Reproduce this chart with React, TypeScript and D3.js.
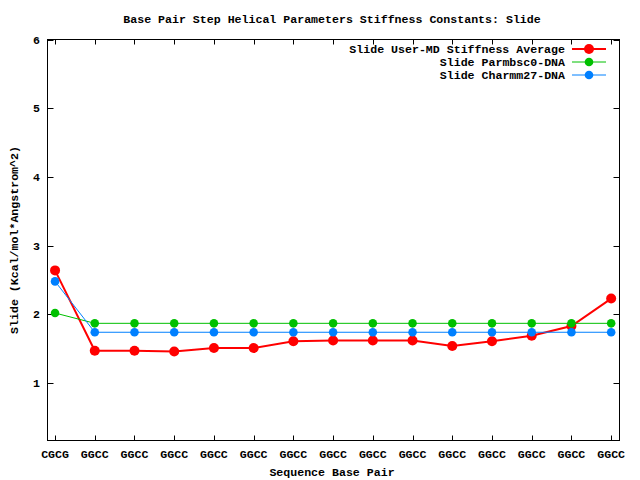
import React from "react";
import * as d3 from "d3";

const categories = ["CGCG","GGCC","GGCC","GGCC","GGCC","GGCC","GGCC","GGCC","GGCC","GGCC","GGCC","GGCC","GGCC","GGCC","GGCC"];
const userMD = [2.64,1.47,1.47,1.46,1.51,1.51,1.61,1.62,1.62,1.62,1.54,1.61,1.69,1.83,2.23];
const parmbsc0 = [2.02,1.87,1.87,1.87,1.87,1.87,1.87,1.87,1.87,1.87,1.87,1.87,1.87,1.87,1.87];
const charmm27 = [2.48,1.74,1.74,1.74,1.74,1.74,1.74,1.74,1.74,1.74,1.74,1.74,1.74,1.74,1.74];
const yTicks = [1,2,3,4,5,6];
const seriesNames = ["Slide User-MD Stiffness Average","Slide Parmbsc0-DNA","Slide Charmm27-DNA"];

const W = 640, H = 480;
const L = 47.5, R = 619.5, T = 39.5, B = 440.5;
const font = "'Liberation Mono', 'DejaVu Sans Mono', monospace";
const fs = 11.6;

export default function App() {
  const x = d3.scaleLinear().domain([-0.19, 14.21]).range([L, R]);
  const y = d3.scaleLinear().domain([0.165, 6]).range([B, T]);
  const line = d3.line<number>().x((_, i) => x(i)).y((d) => y(d));
  const series = [
    { name: seriesNames[0], data: userMD, color: "#ff0000", w: 2, r: 5 },
    { name: seriesNames[1], data: parmbsc0, color: "#00c000", w: 1, r: 4.3 },
    { name: seriesNames[2], data: charmm27, color: "#0080ff", w: 1, r: 4.3 },
  ];
  return (
    <svg width={W} height={H} style={{ position: "absolute", left: 0, top: 0, background: "#fff" }}>
      <rect x={0} y={0} width={W} height={H} fill="#fff" />
      <text x={332} y={23} textAnchor="middle" fontFamily={font} fontWeight="bold" fontSize={fs}>
        Base Pair Step Helical Parameters Stiffness Constants: Slide
      </text>
      {yTicks.map((t) => (
        <g key={t}>
          <line x1={L} x2={L + 6} y1={Math.round(y(t)) + 0.5} y2={Math.round(y(t)) + 0.5} stroke="#000" />
          <line x1={R} x2={R - 6} y1={Math.round(y(t)) + 0.5} y2={Math.round(y(t)) + 0.5} stroke="#000" />
          <text x={40} y={y(t) + 4} textAnchor="end" fontFamily={font} fontWeight="bold" fontSize={fs}>{t}</text>
        </g>
      ))}
      {categories.map((c, i) => (
        <g key={i}>
          <line x1={Math.round(x(i)) + 0.5} x2={Math.round(x(i)) + 0.5} y1={B} y2={B - 5} stroke="#000" />
          <line x1={Math.round(x(i)) + 0.5} x2={Math.round(x(i)) + 0.5} y1={T} y2={T + 5} stroke="#000" />
          <text x={x(i)} y={458} textAnchor="middle" fontFamily={font} fontWeight="bold" fontSize={fs}>{c}</text>
        </g>
      ))}
      <rect x={L} y={T} width={R - L} height={B - T} fill="none" stroke="#000" />
      <text x={332} y={476} textAnchor="middle" fontFamily={font} fontWeight="bold" fontSize={fs}>Sequence Base Pair</text>
      <text transform={`translate(18,240) rotate(-90)`} textAnchor="middle" fontFamily={font} fontWeight="bold" fontSize={fs}>
        Slide (Kcal/mol*Angstrom^2)
      </text>
      {series.map((s) => (
        <g key={s.name}>
          <path d={line(s.data) || ""} fill="none" stroke={s.color} strokeWidth={s.w} />
          {s.data.map((v, i) => (
            <circle key={i} cx={x(i)} cy={y(v)} r={s.r} fill={s.color} />
          ))}
        </g>
      ))}
      {series.map((s, k) => {
        const ly = 49 + k * 13;
        return (
          <g key={"lg" + k}>
            <text x={565} y={ly + 4} textAnchor="end" fontFamily={font} fontWeight="bold" fontSize={fs}>{s.name}</text>
            <line x1={572} x2={606} y1={ly} y2={ly} stroke={s.color} strokeWidth={s.w} />
            <circle cx={589} cy={ly} r={s.r} fill={s.color} />
          </g>
        );
      })}
    </svg>
  );
}
